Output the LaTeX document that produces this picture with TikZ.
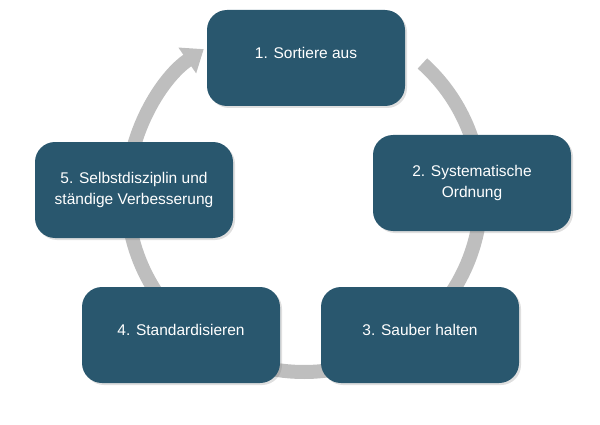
\documentclass[tikz,border=0pt]{standalone}
\usepackage{fontspec}
\setmainfont{Liberation Sans}
\usetikzlibrary{arrows.meta,shadows}
\definecolor{boxblue}{RGB}{41,87,110}
\definecolor{ringgray}{RGB}{190,190,190}

\begin{document}
\begin{tikzpicture}[x=1pt,y=1pt,
  stepbox/.style={fill=boxblue,rounded corners=20pt,minimum width=198pt,minimum height=96pt,
    inner sep=0pt,text=white,align=center,font=\fontsize{15.5}{20.5}\selectfont,
    drop shadow={opacity=0.25,shadow xshift=2pt,shadow yshift=-2pt}},
  oneline/.style={text depth=10pt},
  ringline/.style={draw=ringgray,line width=14pt}]
\useasboundingbox (0,0) rectangle (600,424);

%%%%%%%%%%%%% ring
\draw[ringline,-{Triangle[width=30pt,length=20pt]}] (304,229) ++(48:177) arc[start angle=48,end angle=-235.5,radius=177];

%%%%%%%%%%%%% steps
\node[stepbox,oneline] (s1) at (306,366) {1. Sortiere aus};
\node[stepbox] (s2) at (472,241) {2. Systematische\\Ordnung};
\node[stepbox,oneline] (s3) at (420,89) {3. Sauber halten};
\node[stepbox,oneline] (s4) at (181,89) {4. Standardisieren};
\node[stepbox] (s5) at (134,234) {5. Selbstdisziplin und\\ständige Verbesserung};

\end{tikzpicture}
\end{document}
